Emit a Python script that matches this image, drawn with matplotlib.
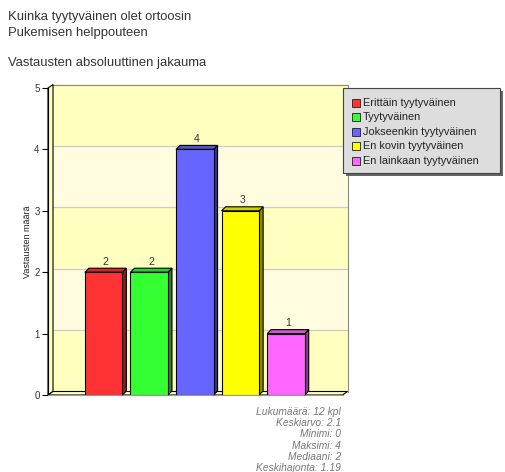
import matplotlib
matplotlib.use("Agg")
import matplotlib.pyplot as plt
from matplotlib.patches import Polygon, Rectangle

plt.rcParams['font.family'] = ['Liberation Sans', 'DejaVu Sans']

# data
labels = ["Erittäin tyytyväinen", "Tyytyväinen", "Jokseenkin tyytyväinen",
          "En kovin tyytyväinen", "En lainkaan tyytyväinen"]
counts = [2, 2, 4, 3, 1]
front_cols = ['#ff3333', '#33ff33', '#6666ff', '#ffff00', '#ff66ff']
side_cols = ['#8c1c1c', '#1c8c1c', '#33338c', '#8c8c00', '#8c388c']
top_cols = ['#d02828', '#28d028', '#5353d0', '#d0d000', '#d053d0']
yticks = [0, 1, 2, 3, 4, 5]
stats = ["Lukumäärä: 12 kpl", "Keskiarvo: 2.1", "Minimi: 0",
         "Maksimi: 4", "Mediaani: 2", "Keskihajonta: 1.19"]

W, H = 505, 472
fig = plt.figure(figsize=(W / 100, H / 100), dpi=100)
fig.patch.set_facecolor('white')

# plot area in pixels
x0, x1 = 48, 342.5
y0, y1 = 395, 88
ax = fig.add_axes([x0 / W, 1 - y0 / H, (x1 - x0) / W, (y0 - y1) / H])
ax.set_facecolor('none')
xlim = (-1.22, 5.24)
ylim = (0, 5)
ax.set_xlim(*xlim)
ax.set_ylim(*ylim)
pxx = (x1 - x0) / (xlim[1] - xlim[0])
pxy = (y0 - y1) / (ylim[1] - ylim[0])

# 3d offsets (data units)
wdx, wdy = 5 / pxx, 3.5 / pxy
bdx, bdy = 4 / pxx, 4 / pxy

# back wall with bands
for i in range(5):
    c = '#ffffc0' if i % 2 == 0 else '#fffce0'
    ax.add_patch(Rectangle((xlim[0] + wdx, i + wdy), xlim[1] - xlim[0], 1,
                           facecolor=c, edgecolor='none', zorder=0, clip_on=False))
for i in range(1, 5):
    ax.plot([xlim[0] + wdx, xlim[1] + wdx], [i + wdy, i + wdy], color='#cccccc',
            lw=0.9, zorder=0.5, clip_on=False)
ax.plot([xlim[0] + wdx, xlim[1] + wdx, xlim[1] + wdx],
        [5 + wdy, 5 + wdy, wdy], color='#888888', lw=0.8, zorder=0.5, clip_on=False)

# left wall and floor
ax.add_patch(Polygon([(xlim[0], 0), (xlim[0] + wdx, wdy), (xlim[0] + wdx, 5 + wdy),
                      (xlim[0], 5)], closed=True, facecolor='#ffffc0',
                     edgecolor='black', lw=0.8, zorder=1, clip_on=False))
ax.add_patch(Polygon([(xlim[0], 0), (xlim[1], 0), (xlim[1] + wdx, wdy),
                      (xlim[0] + wdx, wdy)], closed=True, facecolor='#ffffc0',
                     edgecolor='black', lw=0.8, zorder=1, clip_on=False))

# bars
xs = list(range(len(counts)))
bw = 37.5 / pxx
ax.bar(xs, counts, width=bw, color=front_cols, edgecolor='black', lw=0.8, zorder=3)
for x, v, sc, tc in zip(xs, counts, side_cols, top_cols):
    l, r = x - bw / 2, x + bw / 2
    ax.add_patch(Polygon([(r, 0), (r + bdx, bdy), (r + bdx, v + bdy), (r, v)],
                         closed=True, facecolor=sc, edgecolor='black', lw=0.8,
                         zorder=2.9, clip_on=False))
    ax.add_patch(Polygon([(l, v), (l + bdx, v + bdy), (r + bdx, v + bdy), (r, v)],
                         closed=True, facecolor=tc, edgecolor='black', lw=0.8,
                         zorder=2.9, clip_on=False))
    ax.text(x + bdx / 2, v + bdy + 1.5 / pxy, str(v), ha='center', va='bottom',
            fontsize=7.5, color='#333333', zorder=4)

# axes
for s in ['top', 'right']:
    ax.spines[s].set_visible(False)
ax.spines['left'].set_color('black')
ax.spines['left'].set_linewidth(0.8)
ax.spines['bottom'].set_color('#999999')
ax.spines['bottom'].set_linewidth(0.8)
ax.set_xticks([])
ax.set_yticks(yticks)
ax.tick_params(axis='y', direction='out', length=4, width=0.8, labelsize=7,
               labelcolor='#333333', pad=2)
ax.set_ylabel("Vastausten määrä", fontsize=6.5, color='#222222', labelpad=2)

# titles
title_lines = [(17, "Kuinka tyytyväinen olet ortoosin"),
               (33, "Pukemisen helppouteen"),
               (63, "Vastausten absoluuttinen jakauma")]
for ypx, t in title_lines:
    fig.text(8 / W, 1 - ypx / H, t, fontsize=9.4, color='#333333', va='center')

# legend box with shadow
lx0, ly0, lx1, ly1 = 343, 88, 500, 173
fig.patches.append(Rectangle(((lx0 + 2.5) / W, 1 - (ly1 + 2.5) / H), (lx1 - lx0) / W,
                             (ly1 - ly0) / H, transform=fig.transFigure,
                             facecolor='#666666', edgecolor='none', zorder=5))
fig.patches.append(Rectangle((lx0 / W, 1 - ly1 / H), (lx1 - lx0) / W,
                             (ly1 - ly0) / H, transform=fig.transFigure,
                             facecolor='#dddddd', edgecolor='#444444', lw=0.8,
                             zorder=6))
for i, (lab, c) in enumerate(zip(labels, front_cols)):
    yc = 103 + i * 14.4
    fig.patches.append(Rectangle((352 / W, 1 - (yc + 4) / H), 8 / W, 8 / H,
                                 transform=fig.transFigure, facecolor=c,
                                 edgecolor='#333333', lw=0.7, zorder=7))
    fig.text(363 / W, 1 - yc / H, lab, fontsize=7.9, color='#222222',
             va='center', zorder=7)

# statistics
for i, s in enumerate(stats):
    fig.text(341 / W, 1 - (412 + i * 11.2) / H, s, fontsize=7.4, style='italic',
             color='#777777', ha='right', va='center')

fig.savefig("out.png", dpi=100)
